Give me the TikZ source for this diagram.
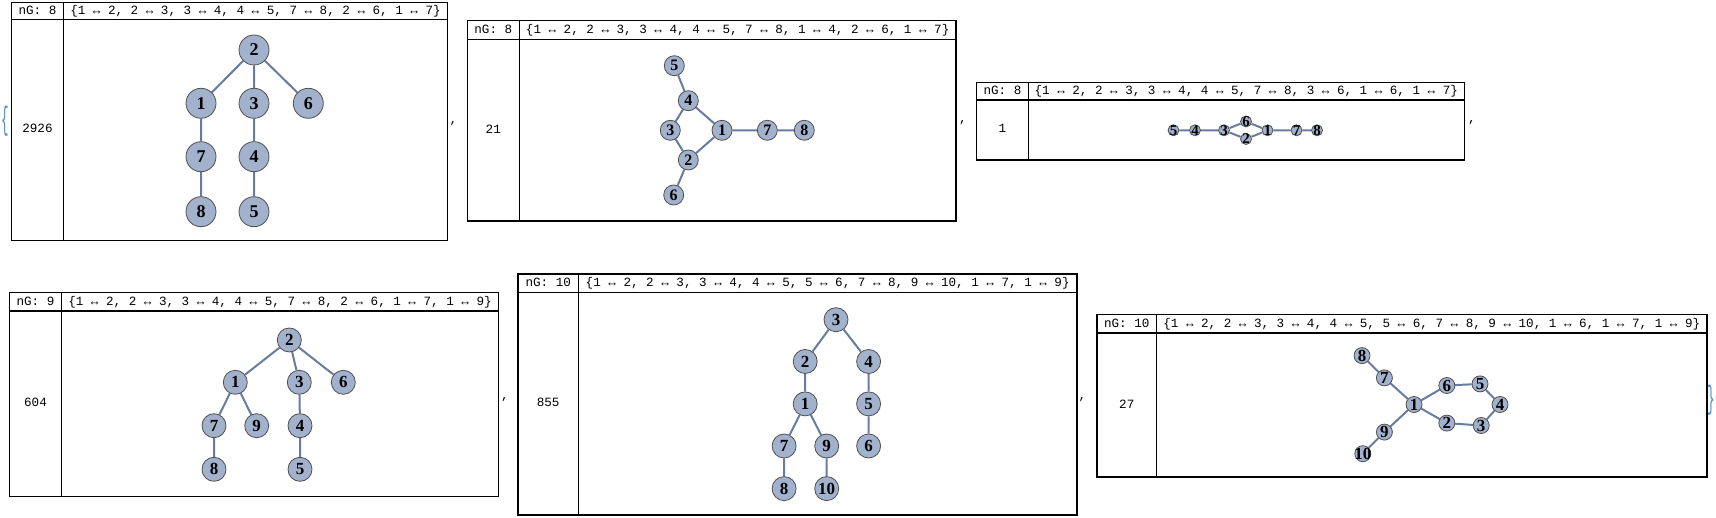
\documentclass[tikz,border=0pt]{standalone}
\usepackage{fontspec}
\usepackage{graphicx}
\setmainfont{Liberation Serif}
\setmonofont{Liberation Mono}
\pgfdeclarelayer{bg}
\pgfsetlayers{bg,main}
\definecolor{vfill}{RGB}{162,177,204}
\definecolor{vline}{RGB}{80,80,80}
\definecolor{ecol}{RGB}{104,124,162}
\definecolor{brcol}{RGB}{80,140,205}
\tikzset{
  tblline/.style={draw=black, line width=1.2pt},
  mono/.style={font=\fontsize{12.6}{14}\ttfamily, inner sep=0pt, text=black},
  vcirc/.style={circle, draw=vline, fill=vfill, line width=0.8pt, inner sep=0pt},
  vlab/.style={font=\fontsize{18}{18}\bfseries, inner sep=0pt, text=black},
  edg/.style={draw=ecol, line width=2pt},
  brc/.style={font=\fontsize{14}{14}\ttfamily, inner sep=0pt, text=brcol},
}
\newcommand{\mtab}[9]{%
  \draw[tblline] (#2,#4) rectangle (#3,#6);
  \draw[tblline] (#2,#5) -- (#3,#5);
  \draw[tblline] (#7,#4) -- (#7,#6);
  \pgfmathsetmacro{\hx}{(#2+#7)/2}
  \pgfmathsetmacro{\hy}{(#4+#5)/2+3.5}
  \pgfmathsetmacro{\ex}{(#7+#3)/2}
  \pgfmathsetmacro{\by}{(#5+#6)/2+3}
  \node[mono, anchor=base] (#1ng) at (\hx,\hy) {nG: #8};
  \node[mono, anchor=base] (#1el) at (\ex,\hy) {#9};
  \coordinate (#1numpos) at (\hx,\by);
}
\newcommand{\gv}[5]{%
  \node[vcirc, minimum size={2*#4pt}] (#1) at (#2,#3) {};
  \node[vlab] (#1l) at (#1.center) {#5};
}
\begin{document}
\begin{tikzpicture}[x=1pt,y=-1pt]
\begin{pgfonlayer}{bg}
\fill[white] (0,0) rectangle (1716,518);
\end{pgfonlayer}
\useasboundingbox (0,0) rectangle (1716,518);

% tables
\mtab{t1}{11.7}{447.7}{2.7}{19.3}{240.7}{63.3}{8}{\{1 ↔ 2, 2 ↔ 3, 3 ↔ 4, 4 ↔ 5, 7 ↔ 8, 2 ↔ 6, 1 ↔ 7\}}
\node[mono, anchor=base] (t1num) at (t1numpos) {2926};
\mtab{t2}{467.3}{956}{20.7}{39.3}{221}{519.3}{8}{\{1 ↔ 2, 2 ↔ 3, 3 ↔ 4, 4 ↔ 5, 7 ↔ 8, 1 ↔ 4, 2 ↔ 6, 1 ↔ 7\}}
\node[mono, anchor=base] (t2num) at (t2numpos) {21};
\mtab{t3}{976.7}{1464.3}{82.7}{100}{160}{1028.3}{8}{\{1 ↔ 2, 2 ↔ 3, 3 ↔ 4, 4 ↔ 5, 7 ↔ 8, 3 ↔ 6, 1 ↔ 6, 1 ↔ 7\}}
\node[mono, anchor=base] (t3num) at (t3numpos) {1};
\mtab{t4}{9.3}{498.3}{292.3}{311}{496.7}{61.7}{9}{\{1 ↔ 2, 2 ↔ 3, 3 ↔ 4, 4 ↔ 5, 7 ↔ 8, 2 ↔ 6, 1 ↔ 7, 1 ↔ 9\}}
\node[mono, anchor=base] (t4num) at (t4numpos) {604};
\mtab{t5}{518}{1077}{274}{292.4}{515}{578.4}{10}{\{1 ↔ 2, 2 ↔ 3, 3 ↔ 4, 4 ↔ 5, 5 ↔ 6, 7 ↔ 8, 9 ↔ 10, 1 ↔ 7, 1 ↔ 9\}}
\node[mono, anchor=base] (t5num) at (t5numpos) {855};
\mtab{t6}{1097}{1707}{314.7}{333}{477}{1156.5}{10}{\{1 ↔ 2, 2 ↔ 3, 3 ↔ 4, 4 ↔ 5, 5 ↔ 6, 7 ↔ 8, 9 ↔ 10, 1 ↔ 6, 1 ↔ 7, 1 ↔ 9\}}
\node[mono, anchor=base] (t6num) at (t6numpos) {27};

% braces and commas
\node[brc] (lbr) at (4.8,121) {\scalebox{0.9}[2.3]{\{}};
\node[brc] (rbr) at (1711,400) {\scalebox{0.9}[2.3]{\}}};
\node[mono] (cm1) at (453.3,123.3) {,};
\node[mono] (cm2) at (963,123) {,};
\node[mono] (cm3) at (1472,123) {,};
\node[mono] (cm4) at (505,400) {,};
\node[mono] (cm5) at (1082.5,400) {,};

% graph 1
\gv{a2}{254}{50}{15}{2}
\gv{a1}{201}{103.3}{15}{1}
\gv{a3}{254}{103.3}{15}{3}
\gv{a6}{308.3}{103.3}{15}{6}
\gv{a7}{201}{156.7}{15}{7}
\gv{a4}{254}{156.7}{15}{4}
\gv{a8}{201}{211.7}{15}{8}
\gv{a5}{254}{211.7}{15}{5}
\begin{pgfonlayer}{bg}
\draw[edg] (a1)--(a2) (a2)--(a3) (a3)--(a4) (a4)--(a5) (a7)--(a8) (a2)--(a6) (a1)--(a7);
\end{pgfonlayer}

% graph 2
\begin{scope}[vlab/.style={font=\fontsize{16}{16}\bfseries, inner sep=0pt, text=black}]
\gv{b5}{674.3}{65.7}{10}{5}
\gv{b4}{688.3}{100.7}{10}{4}
\gv{b3}{670.3}{130.3}{10}{3}
\gv{b1}{722}{130.3}{10}{1}
\gv{b2}{688.3}{160}{10}{2}
\gv{b6}{673.7}{195}{10}{6}
\gv{b7}{767.3}{130.3}{10}{7}
\gv{b8}{804.3}{130.3}{10}{8}
\end{scope}
\begin{pgfonlayer}{bg}
\draw[edg] (b1)--(b2) (b2)--(b3) (b3)--(b4) (b4)--(b5) (b7)--(b8) (b1)--(b4) (b2)--(b6) (b1)--(b7);
\end{pgfonlayer}

% graph 3
\begin{scope}[vlab/.style={font=\fontsize{15}{15}\bfseries, inner sep=0pt, text=black}]
\gv{c5}{1173.5}{130.3}{5.5}{5}
\gv{c4}{1195}{130.3}{5.5}{4}
\gv{c3}{1224}{130.3}{5.5}{3}
\gv{c6}{1246}{121.5}{5.5}{6}
\gv{c2}{1246}{139}{5.5}{2}
\gv{c1}{1267.5}{130.3}{5.5}{1}
\gv{c7}{1296.5}{130.3}{5.5}{7}
\gv{c8}{1317}{130.3}{5.5}{8}
\end{scope}
\begin{pgfonlayer}{bg}
\draw[edg] (c1)--(c2) (c2)--(c3) (c3)--(c4) (c4)--(c5) (c7)--(c8) (c3)--(c6) (c1)--(c6) (c1)--(c7);
\end{pgfonlayer}

% graph 4
\begin{scope}[vlab/.style={font=\fontsize{17}{17}\bfseries, inner sep=0pt, text=black}]
\gv{d2}{289.3}{340}{12}{2}
\gv{d1}{235.3}{382.3}{12}{1}
\gv{d3}{299.3}{382.3}{12}{3}
\gv{d6}{343.3}{382.3}{12}{6}
\gv{d7}{214}{425.7}{12}{7}
\gv{d9}{256.7}{425.7}{12}{9}
\gv{d4}{300}{425.7}{12}{4}
\gv{d8}{214}{469.3}{12}{8}
\gv{d5}{300}{469.3}{12}{5}
\end{scope}
\begin{pgfonlayer}{bg}
\draw[edg] (d1)--(d2) (d2)--(d3) (d3)--(d4) (d4)--(d5) (d7)--(d8) (d2)--(d6) (d1)--(d7) (d1)--(d9);
\end{pgfonlayer}

% graph 5
\begin{scope}[vlab/.style={font=\fontsize{17}{17}\bfseries, inner sep=0pt, text=black}]
\gv{e3}{836}{319.7}{12}{3}
\gv{e2}{805.2}{361.5}{12}{2}
\gv{e4}{868.6}{361.5}{12}{4}
\gv{e1}{805.2}{403.9}{12}{1}
\gv{e5}{868.6}{403.9}{12}{5}
\gv{e7}{784.1}{446}{12}{7}
\gv{e9}{826.7}{446}{12}{9}
\gv{e6}{868.6}{446}{12}{6}
\gv{e8}{784.1}{488.6}{12}{8}
\gv{e10}{826.7}{488.6}{12}{10}
\end{scope}
\begin{pgfonlayer}{bg}
\draw[edg] (e1)--(e2) (e2)--(e3) (e3)--(e4) (e4)--(e5) (e5)--(e6) (e7)--(e8) (e9)--(e10) (e1)--(e7) (e1)--(e9);
\end{pgfonlayer}

% graph 6
\begin{scope}[vlab/.style={font=\fontsize{17}{17}\bfseries, inner sep=0pt, text=black}]
\gv{f8}{1362}{355.6}{8}{8}
\gv{f7}{1384.4}{377.9}{8}{7}
\gv{f1}{1414}{404.5}{8}{1}
\gv{f6}{1446.8}{385.5}{8}{6}
\gv{f5}{1480}{383.9}{8}{5}
\gv{f4}{1500}{404.5}{8}{4}
\gv{f3}{1481.2}{425.5}{8}{3}
\gv{f2}{1446.8}{423.1}{8}{2}
\gv{f9}{1384.4}{432.1}{8}{9}
\gv{f10}{1362.8}{453.7}{8}{10}
\end{scope}
\begin{pgfonlayer}{bg}
\draw[edg] (f1)--(f2) (f2)--(f3) (f3)--(f4) (f4)--(f5) (f5)--(f6) (f7)--(f8) (f9)--(f10) (f1)--(f6) (f1)--(f7) (f1)--(f9);
\end{pgfonlayer}
\end{tikzpicture}
\end{document}
